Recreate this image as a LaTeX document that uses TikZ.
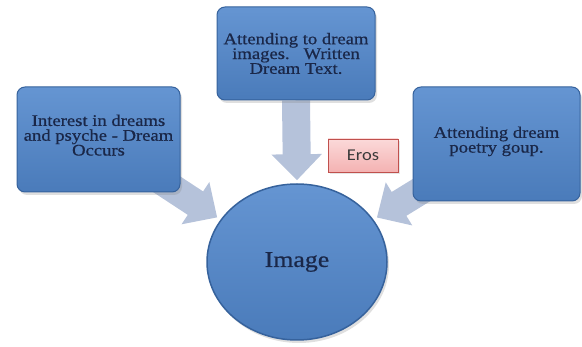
\documentclass[tikz,border=0pt]{standalone}
\usepackage{fontspec}
\newfontfamily\boxfont[FakeStretch=1.15,FakeBold=0.6]{Liberation Serif}
\newfontfamily\erosfont[FakeStretch=1.12]{Carlito}
\usetikzlibrary{shapes.geometric,arrows.meta,shadows}
\definecolor{boxtop}{HTML}{6595D2}
\definecolor{boxbot}{HTML}{4A7BBA}
\definecolor{boxedge}{HTML}{36629C}
\definecolor{txtblue}{HTML}{1A2748}
\definecolor{arrowc}{HTML}{B5C2DA}
\definecolor{erosbot}{HTML}{F4B2B2}
\definecolor{erostop}{HTML}{FBD9D9}
\definecolor{erosedge}{HTML}{C0504D}
\definecolor{erostext}{HTML}{3A3A3A}
\pgfdeclarelayer{background}
\pgfsetlayers{background,main}
\begin{document}
\begin{tikzpicture}[x=1pt,y=-1pt,
  bluebox/.style={rectangle, rounded corners=8pt, top color=boxtop, bottom color=boxbot,
    draw=boxedge, line width=1pt, text=txtblue, align=center, inner sep=0pt,
    font=\boxfont\fontsize{16.2}{14.8}\selectfont,
    drop shadow={opacity=0.25, shadow xshift=2pt, shadow yshift=-3pt}},
  blockarrow/.style={draw=arrowc, line width=28pt, -{Triangle[width=49pt,length=26pt]}},
  erosbox/.style={rectangle, top color=erostop, bottom color=erosbot, draw=erosedge,
    line width=0.8pt, text=erostext, inner sep=0pt,
    font=\erosfont\fontsize{16.5}{18}\selectfont,
    drop shadow={opacity=0.2, shadow xshift=1.5pt, shadow yshift=-2pt}},
  imgnode/.style={ellipse, top color=boxtop, bottom color=boxbot, draw=boxedge,
    line width=1.5pt, text=txtblue, inner sep=0pt,
    font=\boxfont\fontsize{22.5}{26}\selectfont,
    drop shadow={opacity=0.25, shadow xshift=2pt, shadow yshift=-3pt}}
]
\useasboundingbox (0,0) rectangle (582,347);

\node[bluebox, minimum width=163pt, minimum height=105pt] (left) at (98.5,139.5)
  {Interest in dreams\\and psyche - Dream\\Occurs\\[-6pt]};
\node[bluebox, minimum width=158pt, minimum height=93pt] (top) at (296,53.5)
  {Attending to dream\\images.\ \ \ Written\\Dream Text.};
\node[bluebox, minimum width=167pt, minimum height=114pt] (right) at (496.5,144)
  {Attending dream\\poetry goup.\\[-6pt]};
\node[imgnode, minimum width=180pt, minimum height=156pt] (img) at (297,262) {Image};
\node[erosbox, minimum width=70pt, minimum height=33pt] (eros) at (363,155.5) {Eros};

\begin{pgfonlayer}{background}
\draw[blockarrow, shorten >=3pt] (top.south) -- (img.north);
\draw[blockarrow, shorten >=4pt] (left.center) -- (img.151);
\draw[blockarrow, shorten >=4pt] (right.center) -- (img.29);
\end{pgfonlayer}
\end{tikzpicture}
\end{document}
